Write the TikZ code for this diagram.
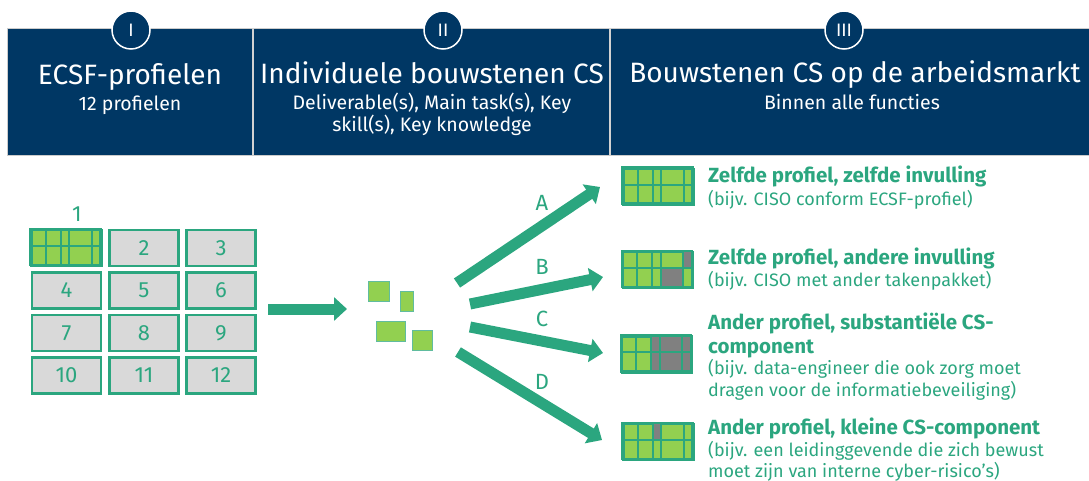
\documentclass[tikz,border=0pt]{standalone}
\usepackage{fontspec}
\setmainfont{Fira Sans}
\usetikzlibrary{arrows.meta,calc}
\definecolor{navy}{HTML}{003764}
\definecolor{tgreen}{HTML}{2BA67F}
\definecolor{lgreen}{HTML}{92D050}
\definecolor{cellgray}{HTML}{808080}
\definecolor{boxgray}{HTML}{D9D9D9}
\tikzset{
  band/.style={fill=navy, draw=gray!40, line width=0.8pt},
  divider/.style={draw=gray!35, line width=1.5pt},
  numcircle/.style={circle, fill=navy, draw=white, line width=1.5pt, minimum size=38pt, inner sep=0pt, text=white, font=\fontsize{18}{18}\selectfont},
  htitle/.style={text=white, anchor=base, font=\fontsize{28}{30}\selectfont},
  hsub/.style={text=white, anchor=base, font=\fontsize{19.5}{22}\selectfont},
  gridbox/.style={draw=tgreen, fill=boxgray, line width=2.5pt, minimum width=69pt, minimum height=36pt, inner sep=0pt, text=tgreen, font=\fontsize{22}{22}\selectfont},
  iconbox/.style={draw=tgreen, fill=lgreen, line width=2.5pt, minimum width=70pt, minimum height=36pt, inner sep=0pt},
  chip/.style={fill=lgreen, draw=tgreen!75, line width=1pt, inner sep=0pt},
  bigarrow/.style={draw=tgreen, line width=11pt, -{Triangle[width=23pt,length=13pt]}},
  fanlabel/.style={text=tgreen, font=\fontsize{22}{22}\selectfont},
  itemhead/.style={text=tgreen, anchor=base west, inner xsep=0pt, font=\fontsize{20.5}{22}\bfseries},
  itemsub/.style={text=tgreen, anchor=base west, inner xsep=0pt, font=\fontsize{18}{20}\selectfont},
}
% #1 name, #2 centre, #3 list of grey cells x1/y1/x2/y2
\newcommand\profileicon[3]{%
  \node[iconbox] (#1) at (#2) {};
  \begin{scope}[shift={(#1.north west)}]
    \foreach \xa/\ya/\xb/\yb in {#3} {\fill[cellgray] (\xa,\ya) rectangle (\xb,\yb);}
    \foreach \xx in {15.7,30.5,39.2,61.5} {\draw[tgreen, line width=2pt] (\xx,0) -- (\xx,36);}
    \draw[tgreen, line width=2pt] (0,17) -- (70,17);
    \draw[tgreen, line width=2.5pt] (0,0) rectangle (70,36);
  \end{scope}
}
\begin{document}
\begin{tikzpicture}[x=1pt,y=-1pt]
\useasboundingbox (0,0) rectangle (1089,481);
% header band
\fill[band] (7,28) rectangle (1090,155);
\draw[divider] (253,28) -- (253,155);
\draw[divider] (610,28) -- (610,155);
\node[numcircle] (c1) at (131,30) {I};
\node[numcircle] (c2) at (443,30) {II};
\node[numcircle] (c3) at (844,30) {III};
\node[htitle] (t1) at (130,85) {ECSF-profielen};
\node[hsub] (s1) at (130,111) {12 profielen};
\node[htitle] (t2) at (432,84) {Individuele bouwstenen CS};
\node[hsub] (s2a) at (432,109.5) {Deliverable(s), Main task(s), Key};
\node[hsub] (s2b) at (432,132) {skill(s), Key knowledge};
\node[htitle] (t3) at (855,83) {Bouwstenen CS op de arbeidsmarkt};
\node[hsub] (s3) at (852,109.5) {Binnen alle functies};
% profile grid
\node[fanlabel] (n1) at (77,214) {1};
\profileicon{g1}{66.5,248}{0/0/0/0}
\node[gridbox] (g2) at (144,248) {2};
\node[gridbox] (g3) at (221,248) {3};
\node[gridbox] (g4) at (66.5,290.5) {4};
\node[gridbox] (g5) at (144,290.5) {5};
\node[gridbox] (g6) at (221,290.5) {6};
\node[gridbox] (g7) at (66.5,333) {7};
\node[gridbox] (g8) at (144,333) {8};
\node[gridbox] (g9) at (221,333) {9};
\node[gridbox] (g10) at (66.5,375.5) {10};
\node[gridbox] (g11) at (144,375.5) {11};
\node[gridbox] (g12) at (221,375.5) {12};
% main arrow
\coordinate (mS) at (268,309);
\coordinate (mE) at (347,309);
\draw[bigarrow] (mS) -- (mE);
% building blocks
\node[chip, minimum width=21pt, minimum height=20pt] (b1) at (378.5,291) {};
\node[chip, minimum width=13pt, minimum height=20pt] (b2) at (406.5,301) {};
\node[chip, minimum width=29pt, minimum height=20pt] (b3) at (390.5,331) {};
\node[chip, minimum width=20pt, minimum height=20pt] (b4) at (422,340) {};
% fan arrows
\coordinate (aS) at (457,283); \coordinate (aE) at (600,187);
\coordinate (bS) at (470,304); \coordinate (bE) at (603,277);
\coordinate (cS) at (470,327); \coordinate (cE) at (603,353);
\coordinate (dS) at (458,352); \coordinate (dE) at (602,440);
\draw[bigarrow] (aS) -- (aE);
\draw[bigarrow] (bS) -- (bE);
\draw[bigarrow] (cS) -- (cE);
\draw[bigarrow] (dS) -- (dE);
\node[fanlabel] (la) at (542,203) {A};
\node[fanlabel] (lb) at (542,267) {B};
\node[fanlabel] (lc) at (542,319) {C};
\node[fanlabel] (ld) at (542,382) {D};
% icons
\profileicon{iA}{658.5,187}{0/0/0/0}
\profileicon{iB}{658,270}{61.5/0/70/17,39.2/17/61.5/36}
\profileicon{iC}{657,354.5}{30.5/0/70/36}
\profileicon{iD}{658.5,442}{30.5/0/39.2/17}
% texts
\node[itemhead] (hA) at (708,183) {Zelfde profiel, zelfde invulling};
\node[itemsub] (sA) at (708,205) {(bijv. CISO conform ECSF-profiel)};
\node[itemhead] (hB) at (708,264.5) {Zelfde profiel, andere invulling};
\node[itemsub] (sB) at (708,286.5) {(bijv. CISO met ander takenpakket)};
\node[itemhead] (hC1) at (708,329) {Ander profiel, substantiële CS-};
\node[itemhead] (hC2) at (708,353) {component};
\node[itemsub] (sC1) at (708,374.5) {(bijv. data-engineer die ook zorg moet};
\node[itemsub] (sC2) at (708,396) {dragen voor de informatiebeveiliging)};
\node[itemhead] (hD) at (708,434) {Ander profiel, kleine CS-component};
\node[itemsub] (sD1) at (708,456) {(bijv. een leidinggevende die zich bewust};
\node[itemsub] (sD2) at (708,477) {moet zijn van interne cyber-risico’s)};
\end{tikzpicture}
\end{document}
